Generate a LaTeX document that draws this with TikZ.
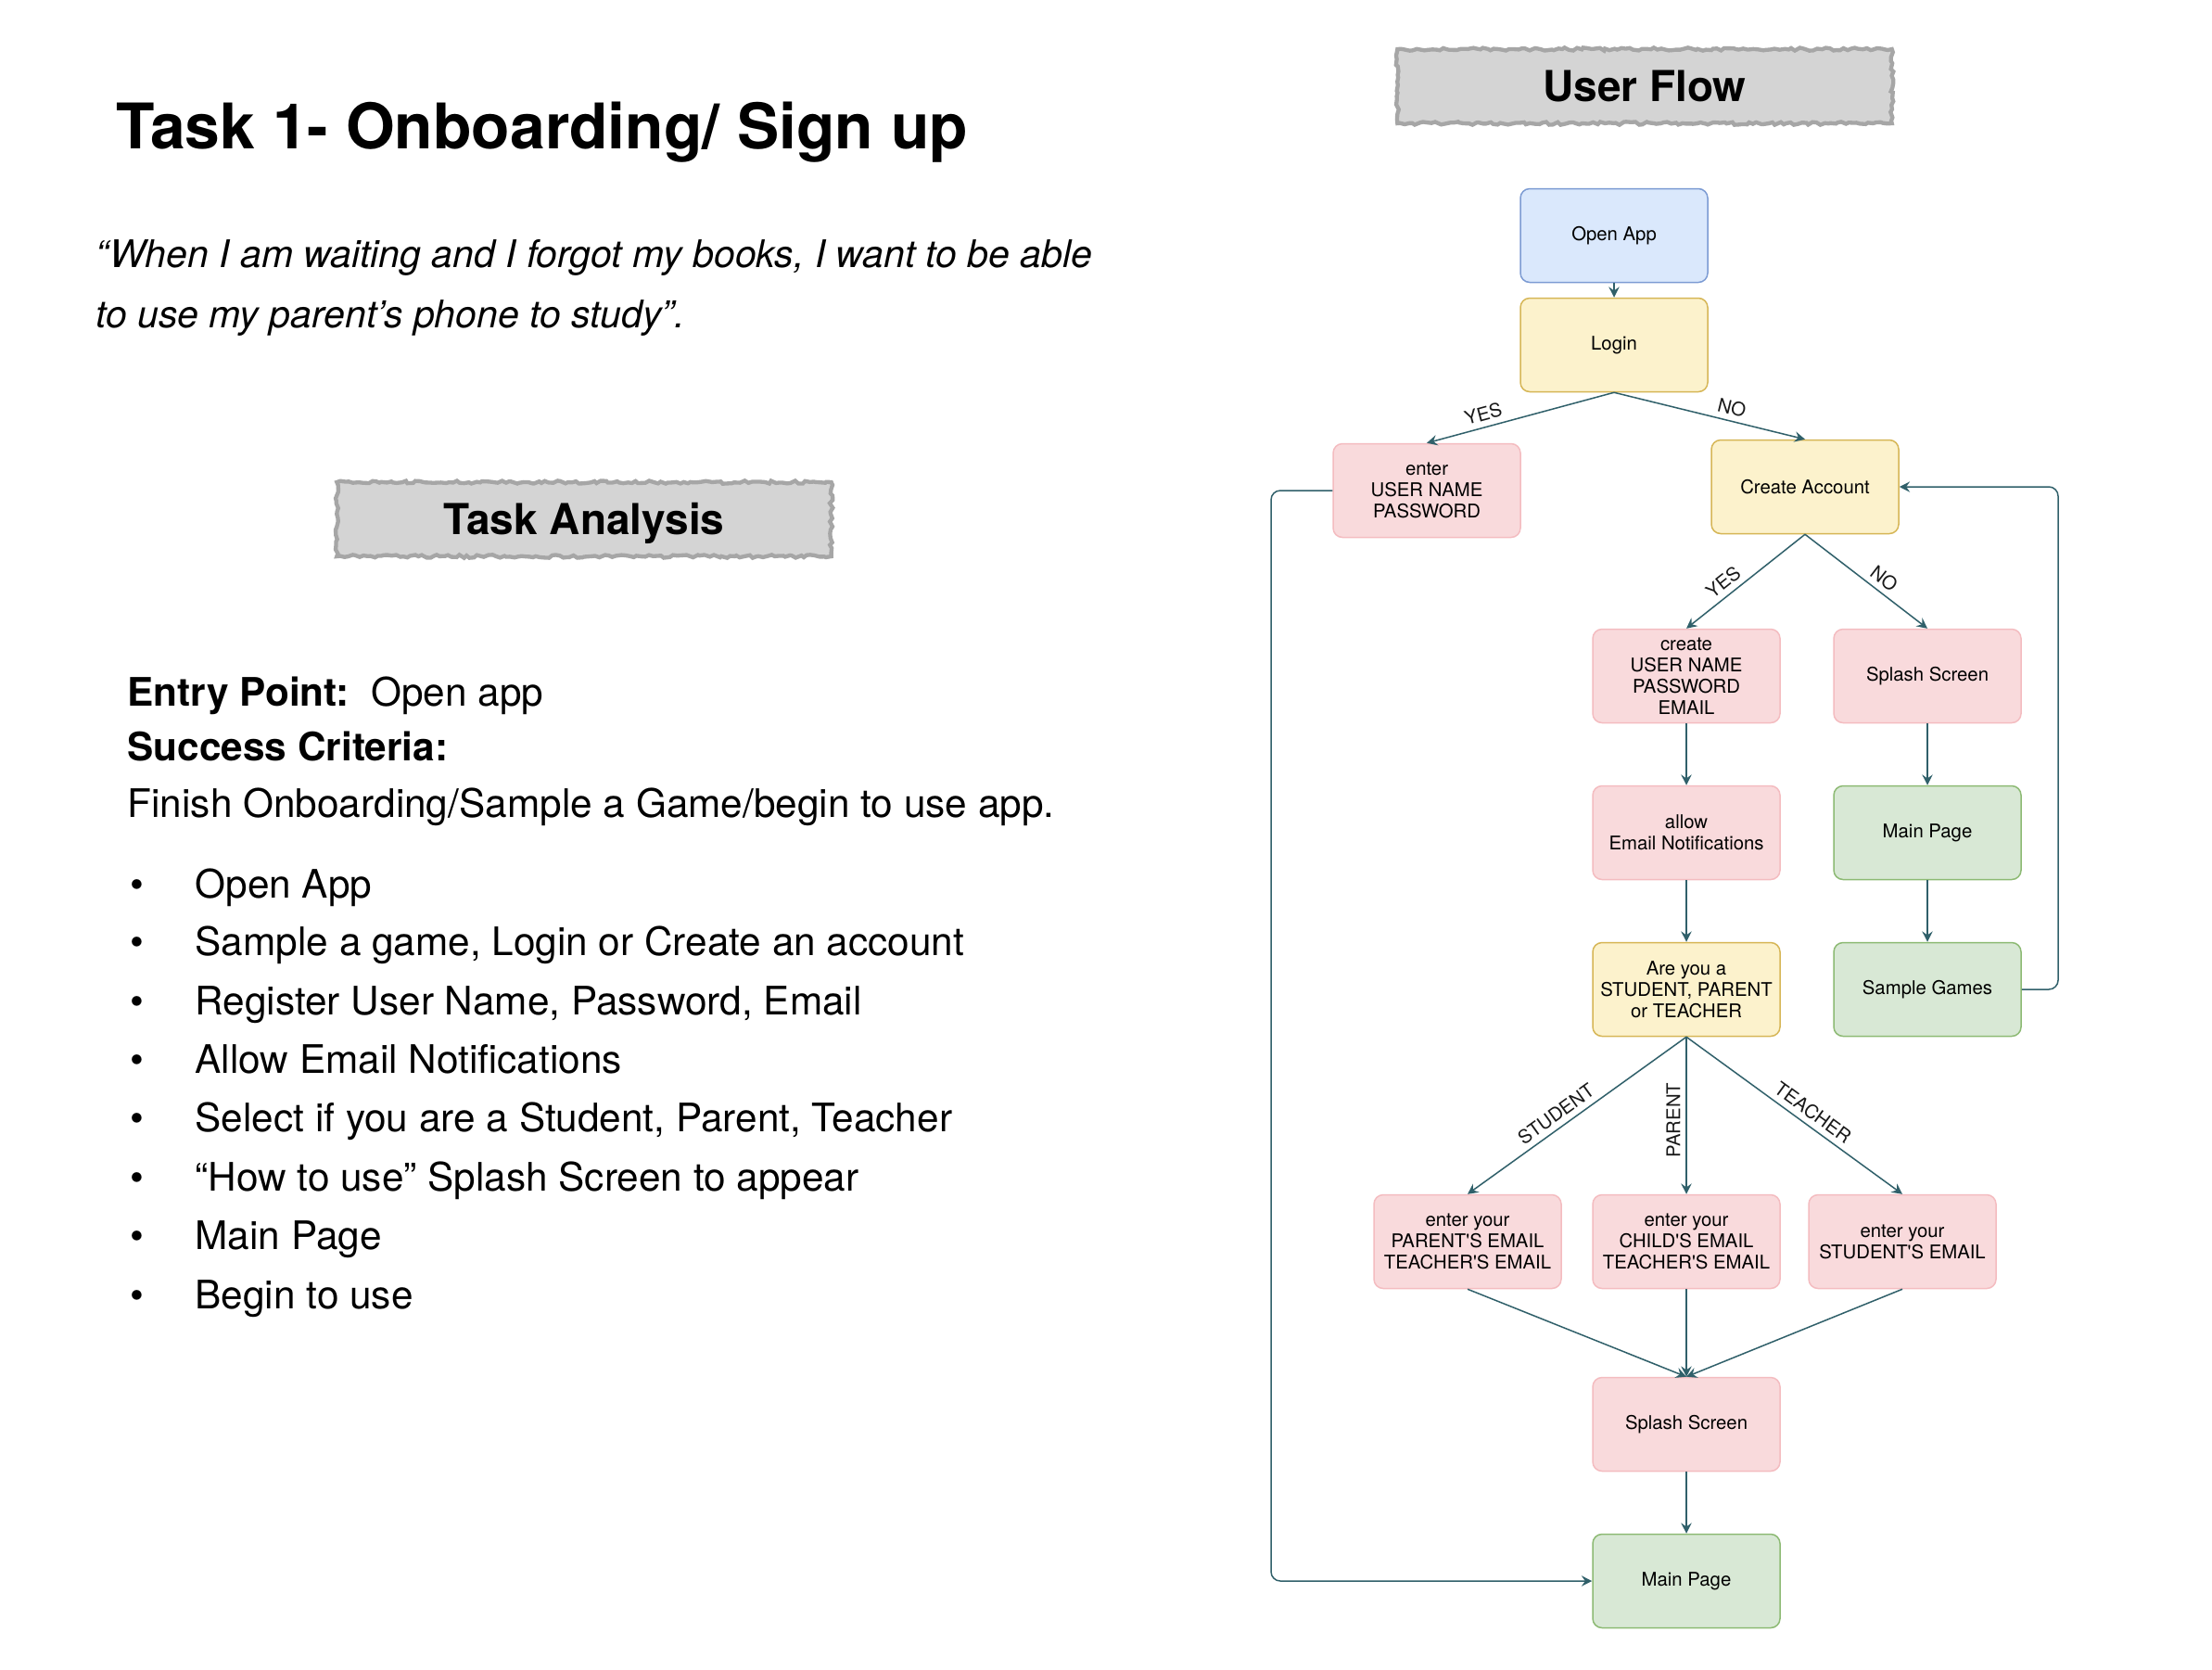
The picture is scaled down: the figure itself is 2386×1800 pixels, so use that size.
\documentclass[tikz,border=0pt]{standalone}
\usepackage{fontspec}
\setmainfont{TeX Gyre Heros}
\usetikzlibrary{arrows.meta,decorations.pathmorphing,calc}
\definecolor{edgecol}{HTML}{30606A}
\definecolor{bfill}{HTML}{DAE8FC}
\definecolor{bline}{HTML}{7C9BD3}
\definecolor{yfill}{HTML}{FCF2CC}
\definecolor{yline}{HTML}{D6B656}
\definecolor{pfill}{HTML}{F9DADC}
\definecolor{pline}{HTML}{F4BCC0}
\definecolor{gfill}{HTML}{D8E8D5}
\definecolor{gline}{HTML}{8DBA74}
\definecolor{hfill}{HTML}{D4D4D4}
\definecolor{hline}{HTML}{A6A6A6}
\newcommand{\aps}{\textquotesingle}
\tikzset{
  fbox/.style={rectangle, rounded corners=3pt, minimum width=60.6pt, minimum height=30.3pt,
    inner sep=1pt, align=center, font=\fontsize{6.1}{6.9}\selectfont, line width=0.45pt},
  bluebox/.style={fbox, fill=bfill, draw=bline},
  yelbox/.style={fbox, fill=yfill, draw=yline},
  pinkbox/.style={fbox, fill=pfill, draw=pline},
  greenbox/.style={fbox, fill=gfill, draw=gline},
  edge/.style={draw=edgecol, line width=0.45pt, -{Stealth[length=3.4pt,width=3.4pt,inset=1.2pt]}},
  lab/.style={font=\fontsize{6.1}{6.9}\selectfont, inner sep=1.8pt, text=black!90},
  heading/.style={fill=hfill, draw=hline, line width=1.3pt, decorate,
    decoration={random steps, segment length=1.2pt, amplitude=0.5pt},
    minimum width=160pt, minimum height=24pt, inner sep=0pt,
    text height=9.6pt, text depth=0pt,
    font=\bfseries\fontsize{13.8}{16}\selectfont},
  txt/.style={anchor=base west, inner sep=0pt, font=\fontsize{12.7}{15}\selectfont},
}
\pgfmathsetseed{7}
\begin{document}
\begin{tikzpicture}[x=0.3pt,y=-0.3pt]
\useasboundingbox (0,0) rectangle (2386,1800);
\fill[white] (0,0) rectangle (2386,1800);

% ---- left side texts
\node[anchor=base west, inner sep=0pt, font=\bfseries\fontsize{20.35}{24}\selectfont] (title) at (125,160) {Task 1- Onboarding/ Sign up};
\node[anchor=base west, inner sep=0pt, font=\itshape\fontsize{12.3}{15}\selectfont] (q1) at (103,288) {“When I am waiting and I forgot my books, I want to be able};
\node[anchor=base west, inner sep=0pt, font=\itshape\fontsize{12.3}{15}\selectfont] (q2) at (103,353) {to use my parent’s phone to study”.};

\node[heading] (ta) at (630,560) {Task Analysis};
\node[heading] (uf) at (1774,93) {User Flow};

\node[txt] (entry) at (137,761) {\textbf{Entry Point:}\ \ Open app};
\node[txt] (succ) at (137,820) {\textbf{Success Criteria:}};
\node[txt] (fin) at (137,881) {Finish Onboarding/Sample a Game/begin to use app.};

\foreach \y/\t [count=\i] in {968/Open App, 1030/{Sample a game, Login or Create an account},
  1094/{Register User Name, Password, Email}, 1157/Allow Email Notifications,
  1220/{Select if you are a Student, Parent, Teacher}, 1284/{“How to use” Splash Screen to appear},
  1347/Main Page, 1411/Begin to use}{
  \node[txt] (b\i) at (140,\y) {\textbullet};
  \node[txt] (t\i) at (210,\y) {\t};
}

% ---- flow nodes
\node[bluebox] (open) at (1741,254) {Open App};
\node[yelbox] (login) at (1741,372) {Login};
\node[pinkbox] (enter) at (1539,529) {enter\\USER NAME\\PASSWORD};
\node[yelbox] (create) at (1947,525) {Create Account};
\node[pinkbox] (cuser) at (1819,729) {create\\USER NAME\\PASSWORD\\EMAIL};
\node[pinkbox] (splash1) at (2079,729) {Splash Screen};
\node[pinkbox] (allow) at (1819,898) {allow\\Email Notifications};
\node[greenbox] (main1) at (2079,898) {Main Page};
\node[yelbox] (areyou) at (1819,1067) {Are you a\\STUDENT, PARENT\\or TEACHER};
\node[greenbox] (sample) at (2079,1067) {Sample Games};
\node[pinkbox] (par) at (1583,1339) {enter your\\PARENT\aps S EMAIL\\TEACHER\aps S EMAIL};
\node[pinkbox] (chi) at (1819,1339) {enter your\\CHILD\aps S EMAIL\\TEACHER\aps S EMAIL};
\node[pinkbox] (stu) at (2052,1339) {enter your\\STUDENT\aps S EMAIL};
\node[pinkbox] (splash2) at (1819,1536) {Splash Screen};
\node[greenbox] (main2) at (1819,1705) {Main Page};

\coordinate (rx) at (2220,0);
\coordinate (lx) at (1371,0);

% ---- connectors
\draw[edge] (open) -- (login);
\draw[edge] (login.south) -- node[lab, pos=0.68, sloped, above] {YES} (enter.north);
\draw[edge] (login.south) -- node[lab, pos=0.6, sloped, above] {NO} (create.north);
\draw[edge] (create.south) -- node[lab, pos=0.62, sloped, above] {YES} (cuser.north);
\draw[edge] (create.south) -- node[lab, pos=0.58, sloped, above] {NO} (splash1.north);
\draw[edge] (cuser) -- (allow);
\draw[edge] (allow) -- (areyou);
\draw[edge] (splash1) -- (main1);
\draw[edge] (main1) -- (sample);
\draw[edge, rounded corners=3pt] (sample.east) -- (sample.east -| rx) -- (create.east -| rx) -- (create.east);
\draw[edge, rounded corners=3pt] (enter.west) -- (enter.west -| lx) -- (main2.west -| lx) -- (main2.west);
\draw[edge] (areyou.south) -- node[lab, pos=0.56, sloped, above] {STUDENT} (par.north);
\draw[edge] (areyou.south) -- node[lab, pos=0.53, rotate=90, above] {PARENT} (chi.north);
\draw[edge] (areyou.south) -- node[lab, pos=0.55, sloped, above] {TEACHER} (stu.north);
\draw[edge] (par.south) -- (splash2.north);
\draw[edge] (chi.south) -- (splash2.north);
\draw[edge] (stu.south) -- (splash2.north);
\draw[edge] (splash2) -- (main2);
\end{tikzpicture}
\end{document}
